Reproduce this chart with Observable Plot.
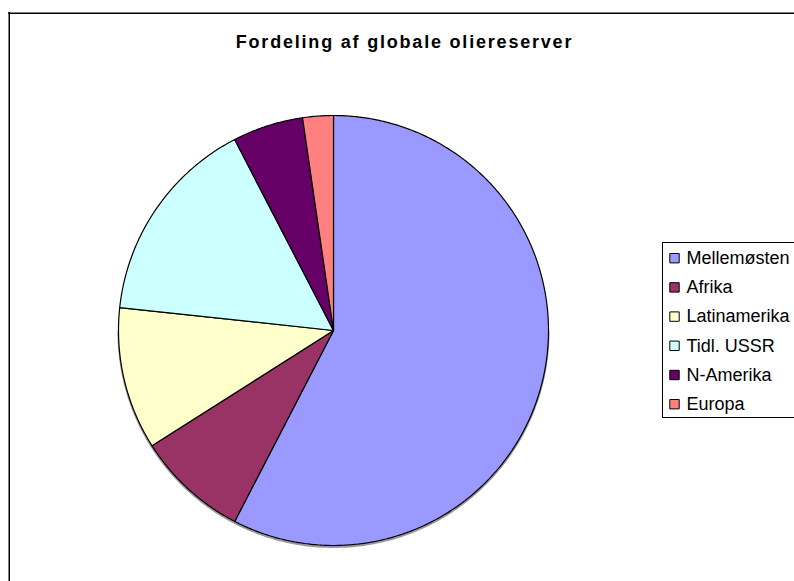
<!DOCTYPE html>
<html>
<head>
<meta charset="utf-8">
<script src="https://cdn.jsdelivr.net/npm/d3@7"></script>
<script src="https://cdn.jsdelivr.net/npm/@observablehq/plot@0.6"></script>
<style>
  html, body { margin: 0; padding: 0; background: white; overflow: hidden; }
</style>
</head>
<body>
<div id="chart"></div>
<script>
const title = "Fordeling af globale oliereserver";
const names = ["Mellemøsten", "Afrika", "Latinamerika", "Tidl. USSR", "N-Amerika", "Europa"];
const shares = [57.6, 8.4, 10.7, 15.7, 5.3, 2.3];
const colors = ["#9999FF", "#993366", "#FFFFCC", "#CCFFFF", "#660066", "#FF8080"];

// layout (pixels)
const W = 794, H = 581;
const CX = 333, CY = 330, R = 215;
const X = px => (px - CX) / R;
const Y = py => (CY - py) / R;

// slice outlines built from the shares (clockwise from 12 o'clock)
const total = d3.sum(shares);
const slicePts = [];
let acc = 0;
names.forEach((name, i) => {
  const a0 = acc / total * 2 * Math.PI;
  acc += shares[i];
  const a1 = acc / total * 2 * Math.PI;
  slicePts.push({name, x: 0, y: 0});
  const n = Math.max(2, Math.ceil((a1 - a0) / (Math.PI / 360)));
  for (let k = 0; k <= n; k++) {
    const a = a0 + (a1 - a0) * k / n;
    slicePts.push({name, x: Math.sin(a), y: Math.cos(a)});
  }
  slicePts.push({name, x: 0, y: 0});
});
const circlePts = d3.range(90, 271).map(d => ({x: Math.sin(d * Math.PI / 180), y: Math.cos(d * Math.PI / 180)}));

const legend = names.map((name, i) => ({name, i}));

const chart = Plot.plot({
  width: W,
  height: H,
  marginTop: 12,
  marginLeft: 8,
  marginRight: 0,
  marginBottom: 0,
  style: {fontFamily: "'Liberation Sans', Arial, sans-serif", background: "white", color: "black"},
  x: {domain: [-1, 1], range: [CX - R, CX + R], axis: null},
  y: {domain: [-1, 1], range: [CY + R, CY - R], axis: null},
  color: {domain: names, range: colors},
  marks: [
    Plot.ruleX([0], {x: () => X(8.75), stroke: "black", strokeWidth: 1.5}),
    Plot.ruleY([0], {y: () => Y(12.75), stroke: "black", strokeWidth: 1.5}),
    // pie shadow
    Plot.line(circlePts, {x: "x", y: "y", stroke: "#999", strokeWidth: 2, dx: 0, dy: 1.5}),
    Plot.line(slicePts, {x: "x", y: "y", z: "name", fill: "name", stroke: "black", strokeWidth: 1.2, strokeLinejoin: "round"}),
    // title
    Plot.text([title], {x: () => X(404), y: () => Y(42), text: d => d, fontSize: 18, fontWeight: "bold", fill: "black"}),
    // legend
    Plot.rect([0], {x1: () => X(662.5), x2: () => X(810), y1: () => Y(242.5), y2: () => Y(417.5), fill: "white", stroke: "black", strokeWidth: 1}),
    Plot.dot(legend, {x: () => X(674), y: d => Y(257.7 + d.i * 29.2), fill: "name", symbol: "square", r: 5.3, stroke: "black", strokeWidth: 1}),
    Plot.text(legend, {x: () => X(686), y: d => Y(257.7 + d.i * 29.2), text: "name", textAnchor: "start", fontSize: 18, fill: "black"})
  ]
});

d3.select(chart).selectAll("text").each(function() {
  const t = d3.select(this);
  if (t.text() === title) t.attr("letter-spacing", "1.8px");
});

document.getElementById("chart").appendChild(chart);
</script>
</body>
</html>
